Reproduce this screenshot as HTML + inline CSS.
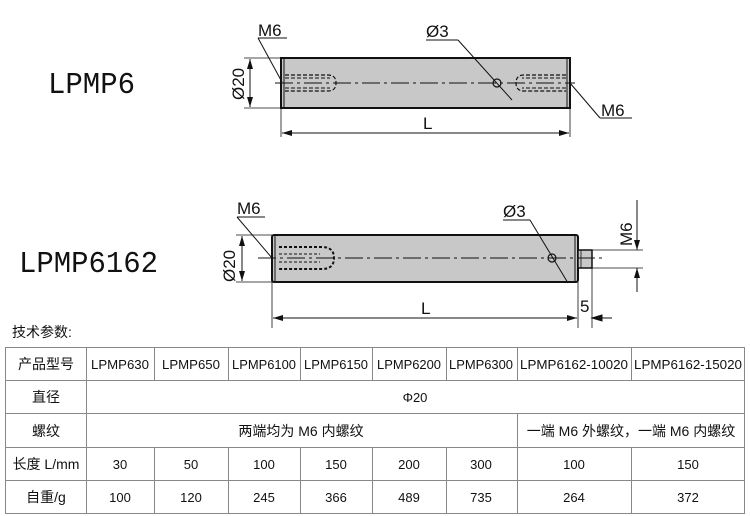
<!DOCTYPE html>
<html><head><meta charset="utf-8"><style>
html,body{margin:0;padding:0;background:#fff;}
svg{display:block}
text{font-family:"Liberation Sans","Noto Sans CJK SC",sans-serif;fill:#111}
</style></head><body>
<svg width="750" height="516" viewBox="0 0 750 516" xmlns="http://www.w3.org/2000/svg">
<defs>
<marker id="ar" markerWidth="10" markerHeight="6" refX="10" refY="3" orient="auto-start-reverse" markerUnits="userSpaceOnUse"><path d="M0,0 L10,3 L0,6z" fill="#111"/></marker>
</defs>
<!-- Titles -->
<text x="48" y="93" font-family="Liberation Mono" font-size="31" textLength="87" lengthAdjust="spacingAndGlyphs" style="font-family:'Liberation Mono',monospace">LPMP6</text>
<text x="19" y="272" font-size="31" textLength="139" lengthAdjust="spacingAndGlyphs" style="font-family:'Liberation Mono',monospace">LPMP6162</text>

<!-- Drawing 1 -->
<g stroke="#111" fill="none">
<rect x="281" y="58" width="289" height="50" fill="#c8c8c8" stroke-width="2"/>
<line x1="284" y1="58" x2="284" y2="108" stroke-width="1"/>
<line x1="567" y1="58" x2="567" y2="108" stroke-width="1"/>
<line x1="275" y1="83" x2="575" y2="83" stroke-width="1" stroke-dasharray="18,4,3,4"/>
<path d="M285,75 H328 Q336,75 336,83 Q336,91 328,91 H285" stroke-dasharray="4,2" stroke-width="1.2"/>
<path d="M285,78 H330 M285,88 H330" stroke-dasharray="4,2" stroke-width="1"/>
<path d="M566,75 H524 Q516,75 516,83 Q516,91 524,91 H566" stroke-dasharray="4,2" stroke-width="1.2"/>
<path d="M566,78 H522 M566,88 H522" stroke-dasharray="4,2" stroke-width="1"/>
<circle cx="497" cy="83" r="4" stroke-width="1.2"/>
<line x1="426" y1="40" x2="458" y2="40"/>
<line x1="458" y1="40" x2="512" y2="100"/>
<line x1="258" y1="38" x2="287" y2="38"/>
<line x1="258" y1="38" x2="282" y2="82"/>
<line x1="570" y1="83" x2="600" y2="118"/>
<line x1="600" y1="118" x2="632" y2="118"/>
<line x1="244" y1="58" x2="281" y2="58" stroke-width="0.8"/>
<line x1="244" y1="108" x2="281" y2="108" stroke-width="0.8"/>
<line x1="250" y1="59" x2="250" y2="107" marker-start="url(#ar)" marker-end="url(#ar)"/>
<line x1="281" y1="108" x2="281" y2="137" stroke-width="0.8"/>
<line x1="570" y1="108" x2="570" y2="137" stroke-width="0.8"/>
<line x1="282" y1="133" x2="569" y2="133" marker-start="url(#ar)" marker-end="url(#ar)"/>
</g>
<text x="258" y="36" font-size="17">M6</text>
<text x="426" y="37" font-size="17">Ø3</text>
<text x="601" y="116" font-size="17">M6</text>
<text x="423" y="129" font-size="17">L</text>
<text transform="translate(244,100) rotate(-90)" font-size="17">Ø20</text>

<!-- Drawing 2 -->
<g stroke="#111" fill="none">
<rect x="272" y="235" width="306" height="47" rx="2" fill="#c8c8c8" stroke-width="2"/>
<line x1="275" y1="235" x2="275" y2="282" stroke-width="1"/>
<line x1="575" y1="235" x2="575" y2="282" stroke-width="1"/>
<rect x="578" y="250" width="14" height="18" fill="#c8c8c8" stroke-width="1.5"/>
<line x1="581" y1="250" x2="581" y2="268" stroke-width="0.8"/>
<line x1="258" y1="258" x2="605" y2="258" stroke-width="1" stroke-dasharray="18,4,3,4"/>
<path d="M279,247 H322 Q334,247 334,258 Q334,269 322,269 H279" stroke-dasharray="3,2" stroke-width="2"/>
<path d="M279,254 H320 M279,262 H320" stroke-dasharray="3,2" stroke-width="1"/>
<circle cx="552" cy="258" r="4" stroke-width="1.2"/>
<line x1="503" y1="220" x2="530" y2="220"/>
<line x1="530" y1="220" x2="568" y2="283"/>
<line x1="237" y1="217" x2="265" y2="217"/>
<line x1="237" y1="217" x2="272" y2="258"/>
<line x1="236" y1="235" x2="272" y2="235" stroke-width="0.8"/>
<line x1="236" y1="282" x2="272" y2="282" stroke-width="0.8"/>
<line x1="242" y1="236" x2="242" y2="281" marker-start="url(#ar)" marker-end="url(#ar)"/>
<line x1="272" y1="282" x2="272" y2="328" stroke-width="0.8"/>
<line x1="578" y1="282" x2="578" y2="328" stroke-width="0.8"/>
<line x1="592" y1="268" x2="592" y2="328" stroke-width="0.8"/>
<line x1="273" y1="318" x2="577" y2="318" marker-start="url(#ar)" marker-end="url(#ar)"/>
<line x1="593" y1="318" x2="612" y2="318"/>
<path d="M602,315 L592,318 L602,321z" fill="#111"/>
<line x1="592" y1="250" x2="643" y2="250" stroke-width="0.8"/>
<line x1="592" y1="268" x2="643" y2="268" stroke-width="0.8"/>
<line x1="637" y1="200" x2="637" y2="250" marker-end="url(#ar)"/>
<line x1="637" y1="268" x2="637" y2="292" marker-start="url(#ar)"/>
</g>
<text x="237" y="214" font-size="17">M6</text>
<text x="503" y="217" font-size="17">Ø3</text>
<text x="421" y="314" font-size="17">L</text>
<text x="580" y="312" font-size="17">5</text>
<text transform="translate(235,282) rotate(-90)" font-size="17">Ø20</text>
<text transform="translate(632,246) rotate(-90)" font-size="17">M6</text>

<!-- Table -->
<text x="12" y="337" font-size="14">技术参数:</text>
<g stroke="#888" stroke-width="1">
<rect x="5.5" y="347.5" width="739" height="166" fill="none"/>
<line x1="5" y1="380.5" x2="745" y2="380.5"/>
<line x1="5" y1="413.5" x2="745" y2="413.5"/>
<line x1="5" y1="447.5" x2="745" y2="447.5"/>
<line x1="5" y1="480.5" x2="745" y2="480.5"/>
<line x1="86.5" y1="347" x2="86.5" y2="514"/>
<g>
<line x1="154.5" y1="347" x2="154.5" y2="380"/><line x1="228.5" y1="347" x2="228.5" y2="380"/><line x1="300.5" y1="347" x2="300.5" y2="380"/><line x1="372.5" y1="347" x2="372.5" y2="380"/><line x1="446.5" y1="347" x2="446.5" y2="380"/><line x1="517.5" y1="347" x2="517.5" y2="380"/><line x1="631.5" y1="347" x2="631.5" y2="380"/>
<line x1="517.5" y1="413" x2="517.5" y2="447"/>
<line x1="154.5" y1="447" x2="154.5" y2="514"/><line x1="228.5" y1="447" x2="228.5" y2="514"/><line x1="300.5" y1="447" x2="300.5" y2="514"/><line x1="372.5" y1="447" x2="372.5" y2="514"/><line x1="446.5" y1="447" x2="446.5" y2="514"/><line x1="517.5" y1="447" x2="517.5" y2="514"/><line x1="631.5" y1="447" x2="631.5" y2="514"/>
</g>
</g>
<g font-size="13" text-anchor="middle">
<text x="46" y="369" font-size="14">产品型号</text>
<text x="120" y="369" textLength="58" lengthAdjust="spacingAndGlyphs">LPMP630</text>
<text x="191" y="369" textLength="58" lengthAdjust="spacingAndGlyphs">LPMP650</text>
<text x="264" y="369" textLength="64" lengthAdjust="spacingAndGlyphs">LPMP6100</text>
<text x="336" y="369" textLength="64" lengthAdjust="spacingAndGlyphs">LPMP6150</text>
<text x="409" y="369" textLength="64" lengthAdjust="spacingAndGlyphs">LPMP6200</text>
<text x="481" y="369" textLength="64" lengthAdjust="spacingAndGlyphs">LPMP6300</text>
<text x="574" y="369" textLength="108" lengthAdjust="spacingAndGlyphs">LPMP6162-10020</text>
<text x="688" y="369" textLength="108" lengthAdjust="spacingAndGlyphs">LPMP6162-15020</text>
<text x="46" y="402" font-size="14">直径</text>
<text x="415" y="402">Φ20</text>
<text x="46" y="436" font-size="14">螺纹</text>
<text x="301" y="436" font-size="14">两端均为 M6 内螺纹</text>
<text x="631" y="436" font-size="14">一端 M6 外螺纹，一端 M6 内螺纹</text>
<text x="46" y="469" font-size="14">长度 L/mm</text>
<text x="120" y="469">30</text><text x="191" y="469">50</text><text x="264" y="469">100</text><text x="336" y="469">150</text><text x="409" y="469">200</text><text x="481" y="469">300</text><text x="574" y="469">100</text><text x="688" y="469">150</text>
<text x="46" y="502" font-size="14">自重/g</text>
<text x="120" y="502">100</text><text x="191" y="502">120</text><text x="264" y="502">245</text><text x="336" y="502">366</text><text x="409" y="502">489</text><text x="481" y="502">735</text><text x="574" y="502">264</text><text x="688" y="502">372</text>
</g>
</svg>
</body></html>
